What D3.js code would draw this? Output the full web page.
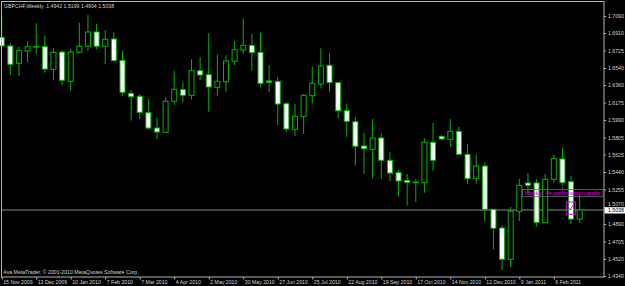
<!DOCTYPE html>
<html>
<head>
<meta charset="utf-8">
<script src="https://cdn.jsdelivr.net/npm/d3@7"></script>
<style>
  html, body { margin: 0; padding: 0; background: #000; }
  svg text { font-family: "Liberation Sans", Arial, sans-serif; }
</style>
</head>
<body>
<div id="plot-container"></div>
<script>
// Weekly GBPCHF bars
const openVals = [1.6865, 1.6773, 1.6590, 1.6720, 1.6765, 1.6765, 1.6526, 1.6709, 1.6399, 1.6706,
  1.6770, 1.6921, 1.6770, 1.6847, 1.6621, 1.6272, 1.6241, 1.6067, 1.5905, 1.5860,
  1.6188, 1.6311, 1.6251, 1.6511, 1.6469, 1.6336, 1.6395, 1.6611, 1.6730, 1.6780,
  1.6706, 1.6403, 1.6399, 1.6162, 1.5892, 1.6029, 1.6247, 1.6371, 1.6569, 1.6385,
  1.6088, 1.5972, 1.5715, 1.5680, 1.5800, 1.5564, 1.5433, 1.5352, 1.5333, 1.5327,
  1.5754, 1.5818, 1.5786, 1.5870, 1.5627, 1.5369, 1.5503, 1.5045, 1.4848, 1.4517,
  1.5024, 1.5324, 1.5324, 1.4904, 1.5363, 1.5578, 1.5337, 1.4942];
const highVals = [1.7101, 1.6804, 1.6765, 1.6822, 1.7013, 1.6878, 1.6748, 1.6730, 1.6741, 1.7019,
  1.7101, 1.7005, 1.6942, 1.6921, 1.6723, 1.6307, 1.6265, 1.6215, 1.6014, 1.6230,
  1.6511, 1.6389, 1.6632, 1.6656, 1.6907, 1.6685, 1.6677, 1.6826, 1.7066, 1.6900,
  1.6910, 1.6572, 1.6448, 1.6177, 1.6159, 1.6262, 1.6551, 1.6748, 1.6695, 1.6390,
  1.6159, 1.6019, 1.5853, 1.6001, 1.5849, 1.5655, 1.5461, 1.5419, 1.5363, 1.5796,
  1.5958, 1.5826, 1.6001, 1.5916, 1.5733, 1.5623, 1.5543, 1.5050, 1.4876, 1.5070,
  1.5366, 1.5429, 1.5363, 1.5419, 1.5623, 1.5694, 1.5398, 1.5199];
const lowVals = [1.6762, 1.6466, 1.6455, 1.6600, 1.6688, 1.6490, 1.6413, 1.6357, 1.6300, 1.6695,
  1.6723, 1.6738, 1.6579, 1.6607, 1.6247, 1.5983, 1.5997, 1.5892, 1.5786, 1.5858,
  1.6149, 1.6177, 1.6209, 1.6413, 1.6078, 1.6247, 1.6286, 1.6569, 1.6688, 1.6511,
  1.6336, 1.6286, 1.5937, 1.5866, 1.5824, 1.5842, 1.6167, 1.6325, 1.6289, 1.6008,
  1.5813, 1.5507, 1.5419, 1.5373, 1.5363, 1.5345, 1.5179, 1.5084, 1.5123, 1.5221,
  1.5454, 1.5775, 1.5704, 1.5620, 1.5310, 1.5316, 1.4914, 1.4622, 1.4403, 1.4438,
  1.4922, 1.5218, 1.4862, 1.4900, 1.5327, 1.5299, 1.4887, 1.4904];
const closeVals = [1.6773, 1.6579, 1.6723, 1.6765, 1.6767, 1.6529, 1.6706, 1.6410, 1.6709, 1.6770,
  1.6921, 1.6770, 1.6844, 1.6617, 1.6283, 1.6236, 1.6071, 1.5905, 1.5863, 1.6188,
  1.6315, 1.6251, 1.6511, 1.6466, 1.6339, 1.6399, 1.6614, 1.6734, 1.6780, 1.6702,
  1.6378, 1.6389, 1.6159, 1.5895, 1.6029, 1.6251, 1.6378, 1.6561, 1.6385, 1.6088,
  1.5976, 1.5712, 1.5686, 1.5800, 1.5564, 1.5429, 1.5345, 1.5331, 1.5330, 1.5754,
  1.5564, 1.5789, 1.5870, 1.5627, 1.5369, 1.5503, 1.5045, 1.4845, 1.4517, 1.5024,
  1.5299, 1.5299, 1.4908, 1.5363, 1.5581, 1.5327, 1.4942, 1.5038];

// Axis labels
const dateLabels = ["15 Nov 2009", "13 Dec 2009", "10 Jan 2010", "7 Feb 2010", "7 Mar 2010",
  "4 Apr 2010", "2 May 2010", "30 May 2010", "27 Jun 2010", "25 Jul 2010", "22 Aug 2010",
  "19 Sep 2010", "17 Oct 2010", "14 Nov 2010", "12 Dec 2010", "9 Jan 2011", "6 Feb 2011"];
const priceTicks = [1.7090, 1.6910, 1.6725, 1.6540, 1.6360, 1.6175, 1.5990, 1.5805, 1.5625,
  1.5440, 1.5255, 1.5070, 1.4890, 1.4705, 1.4520, 1.4340];
const lastPrice = 1.5038;

const bars = openVals.map((o, i) => ({ i, o, h: highVals[i], l: lowVals[i], c: closeVals[i] }));

const W = 625, H = 286;
const plot = { left: 1.5, top: 1.5, right: 604, bottom: 277 };
const green = "#00b400";
const axisGrey = "#b4b4b4";
const textCol = "#d4d4d4";
const fs = 5.2;

const svg = d3.select("#plot-container")
    .append("svg")
    .attr("width", W)
    .attr("height", H)
    .style("display", "block");

svg.append("rect").attr("width", W).attr("height", H).attr("fill", "#000");

const x = d3.scaleLinear().domain([0, bars.length - 1]).range([1.7, 579.7]);
const y = d3.scaleLinear().domain([1.4340, 1.7090]).range([276, 16]);

// Current price line
svg.append("line")
    .attr("x1", plot.left).attr("x2", plot.right)
    .attr("y1", y(lastPrice)).attr("y2", y(lastPrice))
    .attr("stroke", "#8a8a8a").attr("stroke-width", 1);

// Candles
const candles = svg.append("g").selectAll("g").data(bars).enter().append("g");

candles.append("line")
    .attr("x1", d => x(d.i)).attr("x2", d => x(d.i))
    .attr("y1", d => y(d.h)).attr("y2", d => y(d.l))
    .attr("stroke", green).attr("stroke-width", 1);

candles.append("rect")
    .attr("x", d => x(d.i) - 2.5)
    .attr("width", 5)
    .attr("y", d => y(Math.max(d.o, d.c)))
    .attr("height", d => Math.max(0.6, Math.abs(y(d.o) - y(d.c))))
    .attr("fill", d => d.c < d.o ? "#ffffff" : "#000000")
    .attr("stroke", green).attr("stroke-width", 1);

// Frame
svg.append("rect")
    .attr("x", plot.left).attr("y", plot.top)
    .attr("width", plot.right - plot.left).attr("height", plot.bottom - plot.top)
    .attr("fill", "none").attr("stroke", axisGrey).attr("stroke-width", 1);

// Right price axis
const yAxis = svg.append("g")
    .attr("transform", `translate(${plot.right},0)`)
    .call(d3.axisRight(y).tickValues(priceTicks).tickFormat(d3.format(".4f")).tickSize(2).tickPadding(2));
yAxis.select(".domain").remove();
yAxis.selectAll("line").attr("stroke", axisGrey);
yAxis.selectAll("text").attr("fill", textCol).style("font-size", fs + "px");
// the label under the price tag sits a little higher, as in the terminal
yAxis.selectAll("text").filter(d => Math.abs(d - lastPrice) < 0.004).attr("dy", "-0.3em");

// Bottom date axis
const xAxis = svg.append("g")
    .attr("transform", `translate(0,${plot.bottom})`)
    .call(d3.axisBottom(x).tickValues(dateLabels.map((_, k) => k * 4))
        .tickFormat((d, k) => dateLabels[k]).tickSize(2.5));
xAxis.select(".domain").remove();
xAxis.selectAll("line").attr("stroke", axisGrey);
xAxis.selectAll("text")
    .attr("fill", textCol).style("font-size", fs + "px")
    .style("text-anchor", "start")
    .attr("x", 1).attr("y", 3).attr("dy", "0.71em");

// Current price tag
svg.append("rect")
    .attr("x", plot.right + 0.5).attr("y", y(lastPrice) - 2.8)
    .attr("width", 21).attr("height", 6.3).attr("fill", "#fff");
svg.append("text")
    .attr("x", plot.right + 4).attr("y", y(lastPrice) + 1.9)
    .attr("fill", "#000").style("font-size", fs + "px")
    .text(d3.format(".4f")(lastPrice));

// Header and footer text
svg.append("text").attr("x", 4).attr("y", 7.6)
    .attr("fill", textCol).style("font-size", fs + "px")
    .attr("xml:space", "preserve")
    .text("GBPCHF,Weekly  1.4942 1.5199 1.4904 1.5038");
svg.append("text").attr("x", 3.3).attr("y", 273.6)
    .attr("fill", textCol).style("font-size", fs + "px")
    .text("Ava MetaTrader, \u00a9 2001-2010 MetaQuotes Software Corp.");

// Annotation objects
const magenta = "#e000e0";
const noteX = x(65), noteY = y(1.5271);
svg.append("rect").attr("x", noteX - 0.5).attr("y", noteY - 0.8).attr("width", 1).attr("height", 1.6).attr("fill", magenta);
svg.append("rect")
    .attr("x", 522.5).attr("y", noteY + 1.5).attr("width", 80.5).attr("height", 7.2)
    .attr("fill", "none").attr("stroke", "#6e6e6e").attr("stroke-width", 0.8);
svg.append("text")
    .attr("x", noteX).attr("y", noteY + 7)
    .attr("fill", magenta).style("font-size", "5.4px").style("text-anchor", "middle")
    .text("Weekly -Ve confirmation candle");

svg.append("rect")
    .attr("x", x(65.45)).attr("y", y(1.5123))
    .attr("width", x(66.5) - x(65.45)).attr("height", y(1.4993) - y(1.5123))
    .attr("fill", "none").attr("stroke", magenta).attr("stroke-width", 1);
svg.append("path")
    .attr("d", `M${x(66) - 2.8},${y(1.5066)} L${x(66) - 0.8},${y(1.5038)} L${x(66) + 2.3},${y(1.5093)}`)
    .attr("fill", "none").attr("stroke", magenta).attr("stroke-width", 0.9);
</script>
</body>
</html>
